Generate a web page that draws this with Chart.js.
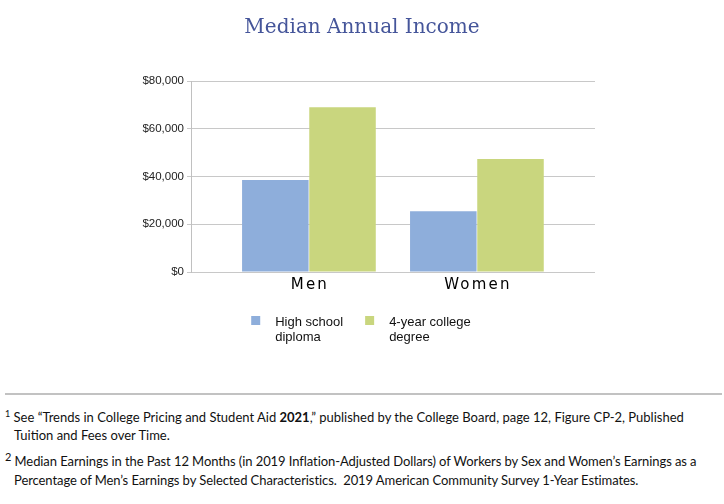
<!doctype html>
<html>
<head>
<script src="https://cdn.jsdelivr.net/npm/chart.js"></script>
<style>
  body { margin: 0; background: #fff; width: 724px; height: 504px; overflow: hidden; position: relative; }
  #wrap { position: absolute; left: 0; top: 0; width: 724px; height: 365px; }
  #rule { position: absolute; left: 5px; top: 393px; width: 717px; height: 2px; background: #c2c2c2; }
  .fn { position: absolute; font-family: Lato, "Noto Sans", sans-serif; font-size: 13px; color: #111; white-space: nowrap; line-height: 18px; }
  .tight { letter-spacing: -0.08px; }
  .sup1 { font-size: 9px; position: relative; top: -5px; }
  .sup2 { font-size: 11px; position: relative; top: -5px; }
</style>
</head>
<body>
<div id="wrap"><canvas id="drawhere"></canvas></div>
<div id="rule"></div>
<div class="fn" style="left:5px;top:408px"><span class="sup1">1</span> See “Trends in College Pricing and Student Aid <b>2021</b>,” published by the College Board, page 12, Figure CP-2, Published</div>
<div class="fn" style="left:14px;top:426px">Tuition and Fees over Time.</div>
<div class="fn tight" style="left:5px;top:452px"><span class="sup2">2</span> Median Earnings in the Past 12 Months (in 2019 Inflation-Adjusted Dollars) of Workers by Sex and Women’s Earnings as a</div>
<div class="fn tight" style="left:14px;top:471px">Percentage of Men’s Earnings by Selected Characteristics.&nbsp; 2019 American Community Survey 1-Year Estimates.</div>
<script>
  // data
  var categories = ['Men', 'Women'];
  var seriesNames = ['High school diploma', '4-year college degree'];
  var legendLines = [['High school', 'diploma'], ['4-year college', 'degree']];
  var highSchool = [38500, 25400];
  var college = [69000, 47300];
  var yTicks = [0, 20000, 40000, 60000, 80000];
  var colors = ['#8eaedb', '#c9d67e'];

  // x labels are letter-spaced in the original, so draw them here at the scale's pixels
  var spacedLabels = {
    id: 'spacedLabels',
    afterDraw: function (c) {
      var ctx = c.ctx, xs = c.scales.x;
      ctx.save();
      ctx.font = '15px "DejaVu Sans"';
      ctx.letterSpacing = '2.2px';
      ctx.fillStyle = '#000';
      ctx.textAlign = 'center';
      ctx.textBaseline = 'alphabetic';
      categories.forEach(function (lab, i) {
        ctx.fillText(lab, xs.getPixelForValue(i) + 1, c.chartArea.bottom + 17);
      });
      ctx.restore();
    }
  };

  // two-line legend under the chart
  var twoLineLegend = {
    id: 'twoLineLegend',
    afterDraw: function (c) {
      var ctx = c.ctx;
      var box = 9, gap = 15, between = 22, lineH = 15;
      ctx.save();
      ctx.font = '13px "Liberation Sans"';
      var widths = legendLines.map(function (ls) {
        return Math.max.apply(null, ls.map(function (t) { return ctx.measureText(t).width; }));
      });
      var total = between * (widths.length - 1);
      widths.forEach(function (w) { total += box + gap + w; });
      var x = c.width / 2 - total / 2 - 1;
      var top = c.chartArea.bottom + 44;
      c.data.datasets.forEach(function (ds, i) {
        ctx.fillStyle = ds.backgroundColor;
        ctx.fillRect(x, top, box, box);
        ctx.fillStyle = '#111';
        ctx.textBaseline = 'alphabetic';
        legendLines[i].forEach(function (t, k) {
          ctx.fillText(t, x + box + gap, top + 10 + k * lineH);
        });
        x += box + gap + widths[i] + between;
      });
      ctx.restore();
    }
  };

  var thechart = new Chart(drawhere, {
    type: 'bar',
    data: {
      labels: categories,
      datasets: [
        { label: seriesNames[0], data: highSchool, backgroundColor: colors[0], barPercentage: 0.99, categoryPercentage: 0.8 },
        { label: seriesNames[1], data: college, backgroundColor: colors[1], barPercentage: 0.99, categoryPercentage: 0.8 }
      ]
    },
    plugins: [spacedLabels, twoLineLegend],
    options: {
      responsive: true,
      maintainAspectRatio: false,
      animation: false,
      layout: { padding: { top: 0, left: 0, right: 0, bottom: 65 } },
      plugins: {
        title: {
          display: true,
          text: 'Median Annual Income',
          color: '#45559a',
          font: { family: 'DejaVu Serif', size: 20, weight: 'normal' },
          padding: { top: 16, bottom: 41 }
        },
        legend: { display: false },
        tooltip: { enabled: false }
      },
      scales: {
        x: {
          grid: { display: false },
          border: { display: false },
          ticks: { display: false },
          afterFit: function (s) { s.height = 28; },
          afterBuildTicks: function (s) { s._startValue = -0.702; s._valueRange = 2.405; }
        },
        y: {
          min: 0,
          max: 80000,
          afterBuildTicks: function (s) { s.ticks = yTicks.map(function (v) { return { value: v }; }); },
          grid: { color: '#c8c8c8', tickLength: 4 },
          border: { color: '#c0c0c0' },
          ticks: {
            color: '#222',
            padding: 3,
            font: { family: 'Liberation Sans', size: 11.5 },
            callback: function (v) { return '$' + v.toLocaleString('en-US'); }
          },
          afterFit: function (s) { s.width = 191; }
        },
        yRight: {
          position: 'right',
          display: true,
          grid: { display: false },
          border: { display: false },
          ticks: { display: false },
          afterFit: function (s) { s.width = 129; }
        }
      }
    }
  });
</script>
</body>
</html>
